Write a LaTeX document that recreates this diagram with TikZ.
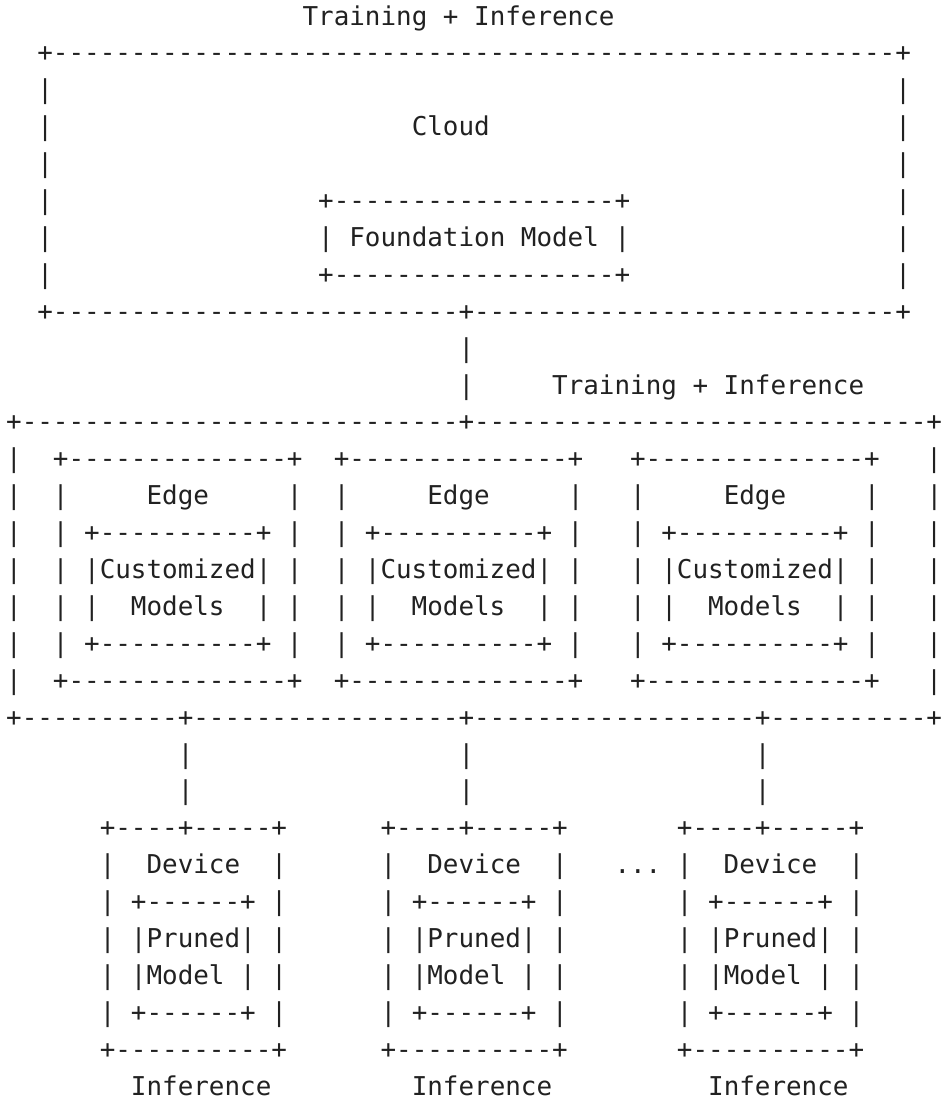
\documentclass[tikz,border=0pt]{standalone}
\usepackage{fontspec}
\setmonofont{DejaVu Sans Mono}
\ExplSyntaxOn
\NewDocumentCommand\R{mm}{\prg_replicate:nn{#1}{#2}}
\ExplSyntaxOff
\definecolor{ink}{RGB}{33,33,33}
\tikzset{asciirow/.style={anchor=base west, inner sep=0pt, outer sep=0pt, text=ink,
  font=\ttfamily\fontsize{25.91}{36.9}\selectfont}}
% edge boxes
\def\BA{+\R{14}{-}+}
\def\BB{|\R{5}{~}Edge\R{5}{~}|}
\def\BC{|~+\R{10}{-}+~|}
\def\BD{|~|Customized|~|}
\def\BE{|~|~~Models~~|~|}
\def\ER#1{|~~#1~~#1~~~#1~~~|}
% device boxes
\def\DA{+\R{4}{-}+\R{5}{-}+}
\def\DB{|~~Device~~|}
\def\DC{|~+\R{6}{-}+~|}
\def\DD{|~|Pruned|~|}
\def\DE{|~|Model~|~|}
\def\DF{+\R{10}{-}+}
\def\DR#1#2{\R{6}{~}#1\R{6}{~}#1#2#1}
\begin{document}
\begin{tikzpicture}[x=1pt,y=1pt]
\path[fill=white] (0,0) rectangle (944,-1103);
\useasboundingbox (0,0) rectangle (944,-1103);
\node[asciirow] (r0)  at (6.2,-25.0)   {\R{19}{~}Training~+~Inference};
\node[asciirow] (r1)  at (6.2,-61.9)   {\R{2}{~}+\R{54}{-}+};
\node[asciirow] (r2)  at (6.2,-98.8)   {\R{2}{~}|\R{54}{~}|};
\node[asciirow] (r3)  at (6.2,-135.7)  {\R{2}{~}|\R{23}{~}Cloud\R{26}{~}|};
\node[asciirow] (r4)  at (6.2,-172.6)  {\R{2}{~}|\R{54}{~}|};
\node[asciirow] (r5)  at (6.2,-209.5)  {\R{2}{~}|\R{17}{~}+\R{18}{-}+\R{17}{~}|};
\node[asciirow] (r6)  at (6.2,-246.4)  {\R{2}{~}|\R{17}{~}|~Foundation~Model~|\R{17}{~}|};
\node[asciirow] (r7)  at (6.2,-283.3)  {\R{2}{~}|\R{17}{~}+\R{18}{-}+\R{17}{~}|};
\node[asciirow] (r8)  at (6.2,-320.2)  {\R{2}{~}+\R{26}{-}+\R{27}{-}+};
\node[asciirow] (r9)  at (6.2,-357.1)  {\R{29}{~}|};
\node[asciirow] (r10) at (6.2,-394.0)  {\R{29}{~}|\R{5}{~}Training~+~Inference};
\node[asciirow] (r11) at (6.2,-430.9)  {+\R{28}{-}+\R{29}{-}+};
\node[asciirow] (r12) at (6.2,-467.8)  {\ER\BA};
\node[asciirow] (r13) at (6.2,-504.7)  {\ER\BB};
\node[asciirow] (r14) at (6.2,-541.6)  {\ER\BC};
\node[asciirow] (r15) at (6.2,-578.5)  {\ER\BD};
\node[asciirow] (r16) at (6.2,-615.4)  {\ER\BE};
\node[asciirow] (r17) at (6.2,-652.3)  {\ER\BC};
\node[asciirow] (r18) at (6.2,-689.2)  {\ER\BA};
\node[asciirow] (r19) at (6.2,-726.1)  {+\R{10}{-}+\R{17}{-}+\R{18}{-}+\R{10}{-}+};
\node[asciirow] (r20) at (6.2,-763.0)  {\R{11}{~}|\R{17}{~}|\R{18}{~}|};
\node[asciirow] (r21) at (6.2,-799.9)  {\R{11}{~}|\R{17}{~}|\R{18}{~}|};
\node[asciirow] (r22) at (6.2,-836.8)  {\DR\DA{\R{7}{~}}};
\node[asciirow] (r23) at (6.2,-873.7)  {\DR\DB{~~~...~}};
\node[asciirow] (r24) at (6.2,-910.6)  {\DR\DC{\R{7}{~}}};
\node[asciirow] (r25) at (6.2,-947.5)  {\DR\DD{\R{7}{~}}};
\node[asciirow] (r26) at (6.2,-984.4)  {\DR\DE{\R{7}{~}}};
\node[asciirow] (r27) at (6.2,-1021.3) {\DR\DC{\R{7}{~}}};
\node[asciirow] (r28) at (6.2,-1058.2) {\DR\DF{\R{7}{~}}};
\node[asciirow] (r29) at (6.2,-1095.1) {\R{8}{~}Inference\R{9}{~}Inference\R{10}{~}Inference};
\end{tikzpicture}
\end{document}
